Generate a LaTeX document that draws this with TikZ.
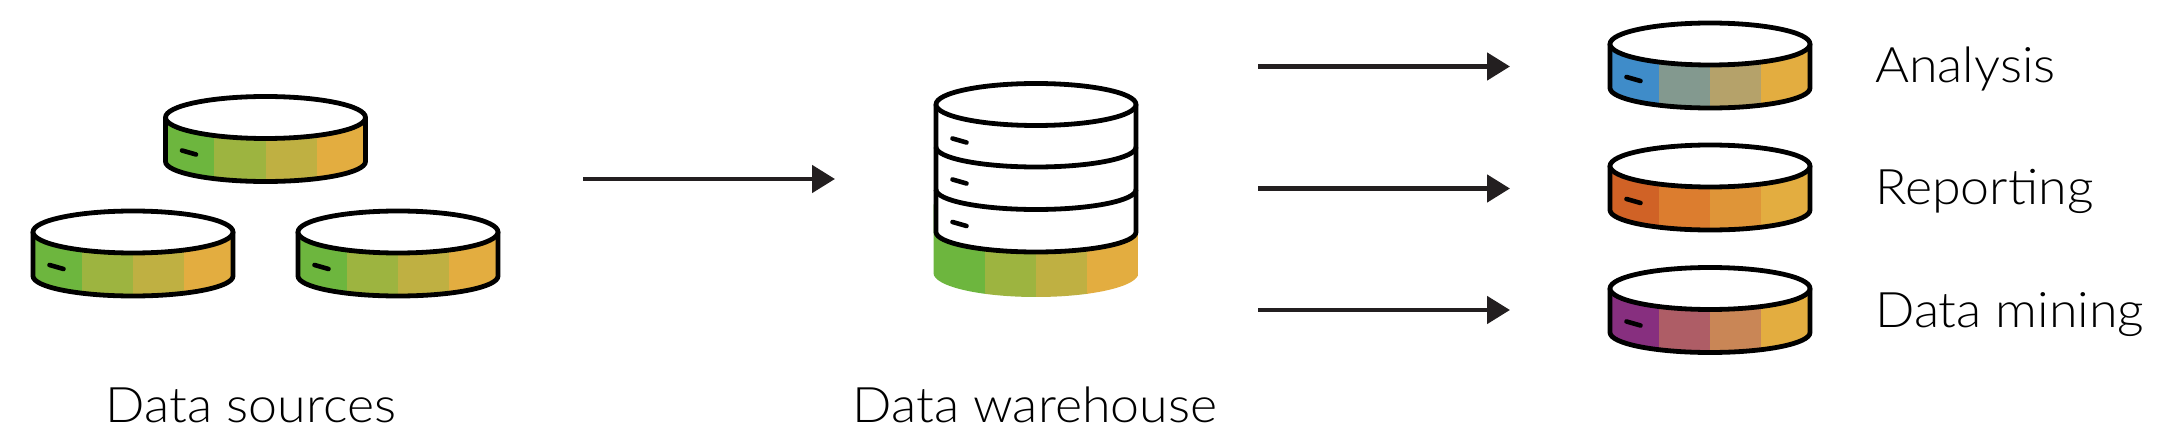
\documentclass[tikz,border=0pt]{standalone}
\usepackage{xcolor}
\usepackage{fontspec}
\setmainfont{Lato}[UprightFont=* Light,FakeStretch=1.06]
\usepackage{tikz}
\usetikzlibrary{arrows.meta,positioning}
\definecolor{inkline}{HTML}{231F20}
\definecolor{gold}{HTML}{E3AD40}
\definecolor{greenA}{HTML}{6DB63E}
\definecolor{greenB}{HTML}{9DB440}
\definecolor{greenC}{HTML}{BFB042}
\definecolor{blueA}{HTML}{3F8CC9}
\definecolor{blueB}{HTML}{83998F}
\definecolor{blueC}{HTML}{B5A26A}
\definecolor{orangeA}{HTML}{D06226}
\definecolor{orangeB}{HTML}{DC7D2F}
\definecolor{orangeC}{HTML}{DF9538}
\definecolor{purpleA}{HTML}{872F7F}
\definecolor{purpleB}{HTML}{AE5D66}
\definecolor{purpleC}{HTML}{C98656}
\tikzset{
  rim/.style={draw=black,line width=4.8pt,line join=round},
  notch/.style={draw=black,line width=4.6pt,line cap=round},
  label/.style={inner sep=0pt,font=\fontsize{49}{55}\selectfont,anchor=base},
  flow/.style={draw=inkline,line width=4.8pt,-{Triangle[length=23pt,width=27pt]}},
}
% four colour bands, cut to the shape given as #5
\newcommand{\bands}[5]{
  \begin{scope}
    \clip #5;
    \fill[#1] (-103,-30) rectangle (-51,300);
    \fill[#2] (-51.5,-30) rectangle (0.5,300);
    \fill[#3] (0,-30) rectangle (51.5,300);
    \fill[#4] (51,-30) rectangle (103,300);
  \end{scope}
}
% #1,#2 = centre of the lid, #3..#6 = band colours
\newcommand{\disk}[6]{
  \begin{scope}[shift={(#1,#2)}]
    \bands{#3}{#4}{#5}{#6}{(-100,0) -- (-100,44) arc[start angle=180,end angle=0,x radius=100,y radius=20] -- (100,0) -- cycle}
    \draw[rim] (-100,0) -- (-100,44) arc[start angle=180,end angle=0,x radius=100,y radius=20] -- (100,0);
    \draw[rim,fill=white] (0,0) ellipse[x radius=100,y radius=21];
    \draw[notch] (-83.5,33) -- (-69.5,37);
  \end{scope}
}
\begin{document}
\begin{tikzpicture}[x=1pt,y=-1pt]
\useasboundingbox (0,0) rectangle (2172,438);
% sources
\disk{265.5}{117.5}{greenA}{greenB}{greenC}{gold}
\disk{133}{232}{greenA}{greenB}{greenC}{gold}
\disk{398}{232}{greenA}{greenB}{greenC}{gold}
% warehouse
\begin{scope}[shift={(1036,104.5)}]
  \bands{greenA}{greenB}{greenC}{gold}{(-102.5,100) -- (-102.5,168.5) arc[start angle=180,end angle=0,x radius=102.5,y radius=24] -- (102.5,100) -- cycle}
  \fill[white] (-100,0) -- (-100,127.5) arc[start angle=180,end angle=0,x radius=100,y radius=20] -- (100,0) -- cycle;
  \draw[rim] (-100,0) -- (-100,127.5) arc[start angle=180,end angle=0,x radius=100,y radius=20] -- (100,0);
  \draw[rim] (-100,42.5) arc[start angle=180,end angle=0,x radius=100,y radius=20];
  \draw[rim] (-100,85) arc[start angle=180,end angle=0,x radius=100,y radius=20];
  \draw[rim,fill=white] (0,0) ellipse[x radius=100,y radius=21];
  \foreach \y in {36,77,119.5}
    \draw[notch] (-83.5,\y-2) -- (-69.5,\y+2);
\end{scope}
% outputs
\disk{1710}{44}{blueA}{blueB}{blueC}{gold}
\disk{1710}{166}{orangeA}{orangeB}{orangeC}{gold}
\disk{1710}{288.5}{purpleA}{purpleB}{purpleC}{gold}
% arrows
\coordinate (srcOut) at (583,179);
\coordinate (whIn) at (835,179);
\coordinate (whOutA) at (1258,66.5);
\coordinate (whOutB) at (1258,188.5);
\coordinate (whOutC) at (1258,310);
\coordinate (useA) at (1510,66.5);
\coordinate (useB) at (1510,188.5);
\coordinate (useC) at (1510,310);
\path[flow] (srcOut) -- (whIn);
\path[flow] (whOutA) -- (useA);
\path[flow] (whOutB) -- (useB);
\path[flow] (whOutC) -- (useC);
% labels
\node[label] (sources) at (251,422) {Data sources};
\node[label] (warehouse) at (1035,422) {Data warehouse};
\node[label,anchor=base west] (analysis) at (1875,83) {Analysis};
\node[label,anchor=base west] (reporting) at (1875,205) {Reporting};
\node[label,anchor=base west] (mining) at (1875,328) {Data mining};
\end{tikzpicture}
\end{document}
